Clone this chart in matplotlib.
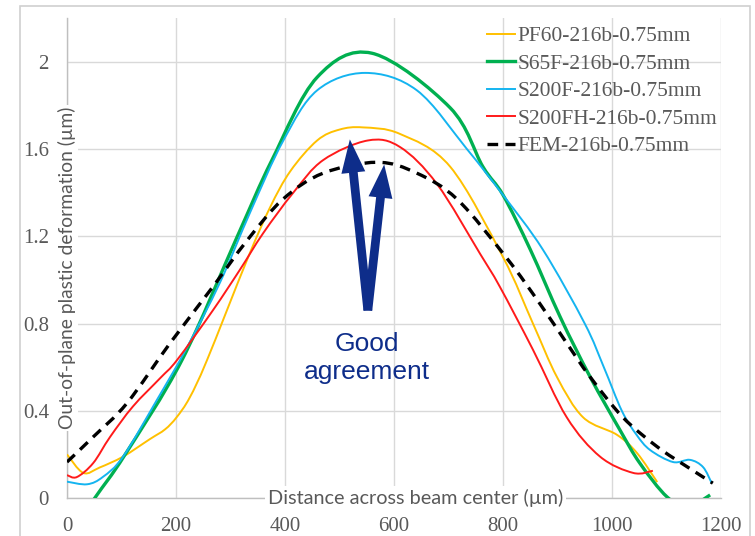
import matplotlib
matplotlib.use("Agg")
import matplotlib.pyplot as plt
import numpy as np
from matplotlib.patches import Rectangle, PathPatch
from matplotlib.path import Path
from matplotlib.lines import Line2D

# ---- data ----
x_pf60 = [0, 30, 60, 103, 152, 180, 201, 225, 257, 330, 372, 410, 459, 500, 543, 611, 703, 800, 855, 899, 947, 1009, 1046, 1083]
y_pf60 = [0.20, 0.115, 0.14, 0.19, 0.27, 0.315, 0.37, 0.46, 0.633, 1.09, 1.33, 1.50, 1.64, 1.69, 1.70, 1.67, 1.52, 1.105, 0.80, 0.555, 0.37, 0.29, 0.206, 0.073]

x_s65f = [0, 51, 106, 211, 312, 376, 459, 560, 703, 763, 800, 850, 905, 960, 1015, 1051, 1101, 1140, 1180]
y_s65f = [-0.19, 0.0, 0.197, 0.633, 1.197, 1.55, 1.93, 2.04, 1.79, 1.52, 1.39, 1.14, 0.83, 0.555, 0.31, 0.16, 0.005, -0.04, 0.014]

x_s200f = [0, 37, 66, 103, 165, 220, 281, 336, 397, 459, 547, 642, 734, 800, 873, 950, 985, 1018, 1045, 1070, 1112, 1143, 1167, 1183]
y_s200f = [0.075, 0.063, 0.097, 0.19, 0.45, 0.69, 0.99, 1.31, 1.64, 1.87, 1.95, 1.87, 1.60, 1.39, 1.14, 0.80, 0.60, 0.40, 0.29, 0.22, 0.165, 0.175, 0.142, 0.068]

x_s200fh = [0, 18, 48, 79, 121, 171, 202, 268, 317, 360, 415, 470, 552, 611, 679, 758, 794, 855, 917, 978, 1039, 1075]
y_s200fh = [0.105, 0.096, 0.16, 0.28, 0.42, 0.55, 0.633, 0.862, 1.046, 1.215, 1.40, 1.55, 1.64, 1.61, 1.44, 1.12, 0.97, 0.68, 0.37, 0.19, 0.115, 0.125]

x_fem = [0, 48, 110, 189, 268, 330, 396, 470, 569, 642, 716, 807, 868, 917, 960, 1020, 1083, 1138, 1185]
y_fem = [0.165, 0.28, 0.435, 0.71, 0.97, 1.18, 1.37, 1.49, 1.54, 1.49, 1.37, 1.10, 0.89, 0.71, 0.555, 0.37, 0.235, 0.143, 0.068]

series_labels = ["PF60-216b-0.75mm", "S65F-216b-0.75mm", "S200F-216b-0.75mm",
                 "S200FH-216b-0.75mm", "FEM-216b-0.75mm"]
x_ticks = [0, 200, 400, 600, 800, 1000, 1200]
y_ticks = [0, 0.4, 0.8, 1.2, 1.6, 2.0]
y_tick_labels = ["0", "0.4", "0.8", "1.2", "1.6", "2"]


def smooth_path(xs, ys):
    """Excel-style smoothed line: Bezier curve through every data point."""
    p = np.column_stack([xs, ys]).astype(float)
    n = len(p)
    verts = [p[0]]
    codes = [Path.MOVETO]
    for i in range(n - 1):
        p0 = p[i - 1] if i > 0 else p[i]
        p1 = p[i]
        p2 = p[i + 1]
        p3 = p[i + 2] if i + 2 < n else p[i + 1]
        c1 = p1 + (p2 - p0) / 6.0
        c2 = p2 - (p3 - p1) / 6.0
        verts += [c1, c2, p2]
        codes += [Path.CURVE4] * 3
    return Path(verts, codes)


# ---- figure ----
W, H = 755, 536
fig = plt.figure(figsize=(W / 100, H / 100), dpi=100)
ax = fig.add_axes([67 / W, 1 - 498 / H, (721 - 67) / W, (498 - 18.4) / H])

# outer frame
fig.patches.append(Rectangle((20 / W, -0.05), (750 - 20) / W, 1.05 - 6 / H,
                             transform=fig.transFigure, fill=False,
                             ec="#d0d0d0", lw=1.2, zorder=0))

serif = "Liberation Serif"
sans = "Lato"
gray = "#595959"

styles = [
    (x_pf60, y_pf60, "#FFC000", 1.4, "-"),
    (x_s65f, y_s65f, "#00B050", 2.4, "-"),
    (x_s200f, y_s200f, "#14B4F0", 1.4, "-"),
    (x_s200fh, y_s200fh, "#FF1A1A", 1.4, "-"),
    (x_fem, y_fem, "black", 2.4, (0, (3.2, 2.2))),
]
handles = []
for i, (xs, ys, c, lw, ls) in enumerate(styles):
    ax.add_patch(PathPatch(smooth_path(xs, ys), fill=False, ec=c, lw=lw, ls=ls,
                           zorder=4 if i == 4 else 3, capstyle="butt"))
    handles.append(Line2D([], [], color=c, lw=lw, ls=ls))

ax.set_xlim(0, 1200)
ax.set_ylim(0, 2.2)
ax.set_xticks(x_ticks)
ax.set_xticklabels([str(v) for v in x_ticks])
ax.set_yticks(y_ticks)
ax.set_yticklabels(y_tick_labels)
ax.tick_params(length=0, labelsize=15, colors=gray)
ax.tick_params(axis="x", pad=14)
ax.tick_params(axis="y", pad=13)
for lab in ax.get_xticklabels() + ax.get_yticklabels():
    lab.set_fontfamily(serif)

ax.grid(True, color="#d9d9d9", lw=1.0)
ax.set_axisbelow(True)
for s in ["top", "right"]:
    ax.spines[s].set_visible(False)
for s in ["left", "bottom"]:
    ax.spines[s].set_color("#bfbfbf")
    ax.spines[s].set_linewidth(1.0)

# axis titles placed inside, with white background
ax.text(0, 1.055, "Out-of-plane plastic deformation (µm)", rotation=90,
        ha="center", va="center", fontsize=13.9, family=sans, color=gray,
        bbox=dict(fc="white", ec="none", pad=1.5), zorder=5, clip_on=False)
ax.text(640, 0, "Distance across beam center (µm)", ha="center", va="center",
        fontsize=14.3, family=sans, color=gray,
        bbox=dict(fc="white", ec="none", pad=2), zorder=5, clip_on=False)

leg = ax.legend(handles, series_labels, loc="upper left",
                bbox_to_anchor=(487 / W, 1 - 26 / H),
                bbox_transform=fig.transFigure, frameon=False,
                prop={"family": serif, "size": 15.5}, handlelength=1.3,
                handletextpad=0.12, labelspacing=0.35, borderpad=0,
                borderaxespad=0)
for t in leg.get_texts():
    t.set_color(gray)

# annotation
blue = "#0E2D8A"
for tip in [(519, 1.645), (582, 1.53)]:
    ax.annotate("", xy=tip, xytext=(552, 0.86),
                arrowprops=dict(arrowstyle="simple,head_length=1.6,head_width=1.15,tail_width=0.42",
                                mutation_scale=15, fc=blue, ec=blue, lw=0,
                                shrinkA=0, shrinkB=0), zorder=6)
ax.text(550, 0.642, "Good\nagreement", ha="center", va="center", fontsize=19,
        family="Liberation Sans", color=blue, zorder=6)

fig.savefig("out.png", dpi=100)
